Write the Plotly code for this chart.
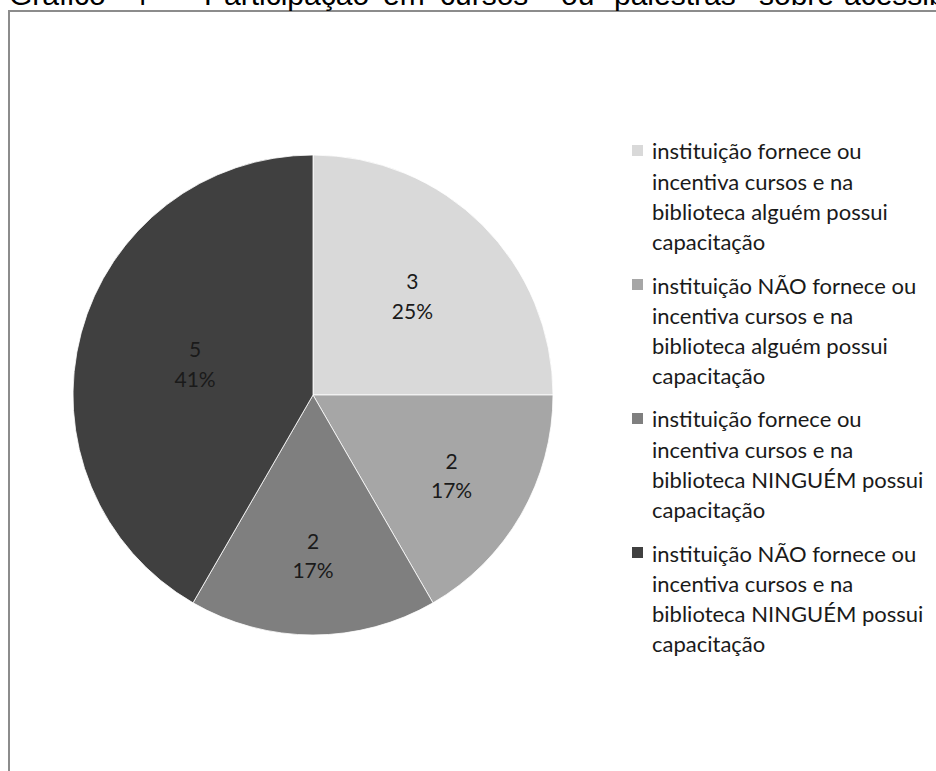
import textwrap
import plotly.graph_objects as go

# --- data -------------------------------------------------------------
categorias = [
    "instituição fornece ou incentiva cursos e na biblioteca alguém possui capacitação",
    "instituição NÃO fornece ou incentiva cursos e na biblioteca alguém possui capacitação",
    "instituição fornece ou incentiva cursos e na biblioteca NINGUÉM possui capacitação",
    "instituição NÃO fornece ou incentiva cursos e na biblioteca NINGUÉM possui capacitação",
]
valores = [3, 2, 2, 5]
percentuais = ["25%", "17%", "17%", "41%"]
cores = ["#D9D9D9", "#A6A6A6", "#7F7F7F", "#404040"]

titulo_palavras = ["Gráfico", "4", "–", "Participação", "em", "cursos",
                   "ou", "palestras", "sobre", "acessibilidade"]

# --- page geometry (pixels) ------------------------------------------
W, H = 936, 771


def px(x):
    return x / W


def py(y):
    return 1 - y / H


fig = go.Figure()

fig.add_trace(go.Pie(
    labels=categorias,
    values=valores,
    customdata=percentuais,
    sort=False,
    direction="clockwise",
    rotation=0,
    marker=dict(colors=cores, line=dict(color="#ffffff", width=0.8)),
    texttemplate="<span style='font-size:21px'>%{value}</span><br>"
                 "<span style='font-size:21px'>%{customdata}</span>",
    textposition="inside",
    insidetextorientation="horizontal",
    insidetextfont=dict(family="Lato", size=23, color="#1a1a1a"),
    hoverinfo="label+value+percent",
    showlegend=False,
    domain=dict(x=[px(73), px(553)], y=[py(635), py(155)]),
))

annotations = []
shapes = []

# legend drawn beside the pie: swatch + wrapped label lines
leg_top, item_step, line_step = 151, 134, 30
for i, (cat, cor) in enumerate(zip(categorias, cores)):
    y0 = leg_top + i * item_step
    shapes.append(dict(type="rect", xref="paper", yref="paper",
                       x0=px(632), x1=px(643), y0=py(y0 - 6), y1=py(y0 + 5),
                       fillcolor=cor, line=dict(width=0)))
    for j, linha in enumerate(textwrap.wrap(cat, width=26)):
        annotations.append(dict(
            text=linha, xref="paper", yref="paper",
            x=px(650), y=py(y0 + j * line_step),
            xanchor="left", yanchor="middle", showarrow=False,
            font=dict(family="Lato", size=22, color="#1a1a1a"),
        ))

# caption line above the frame, justified across the page width
palavra_x = [8, 130, 165, 203, 382, 439, 560, 613, 758, 843]
for palavra, x in zip(titulo_palavras, palavra_x):
    annotations.append(dict(
        text=palavra, xref="paper", yref="paper",
        x=px(x), y=py(12), xanchor="left", yanchor="bottom",
        showarrow=False, borderpad=0,
        font=dict(family="Liberation Sans", size=30, color="#000000"),
    ))

# chart frame (left and top edges visible)
shapes.append(dict(type="line", xref="paper", yref="paper",
                   x0=px(9), x1=px(9), y0=py(10), y1=py(H + 10),
                   line=dict(color="#8c8c8c", width=2)))
shapes.append(dict(type="line", xref="paper", yref="paper",
                   x0=px(8), x1=px(W + 10), y0=py(11), y1=py(11),
                   line=dict(color="#8c8c8c", width=2)))

fig.update_layout(
    width=W, height=H,
    margin=dict(l=0, r=0, t=0, b=0),
    paper_bgcolor="#ffffff",
    plot_bgcolor="#ffffff",
    annotations=annotations,
    shapes=shapes,
)

fig.write_html("out.html")
